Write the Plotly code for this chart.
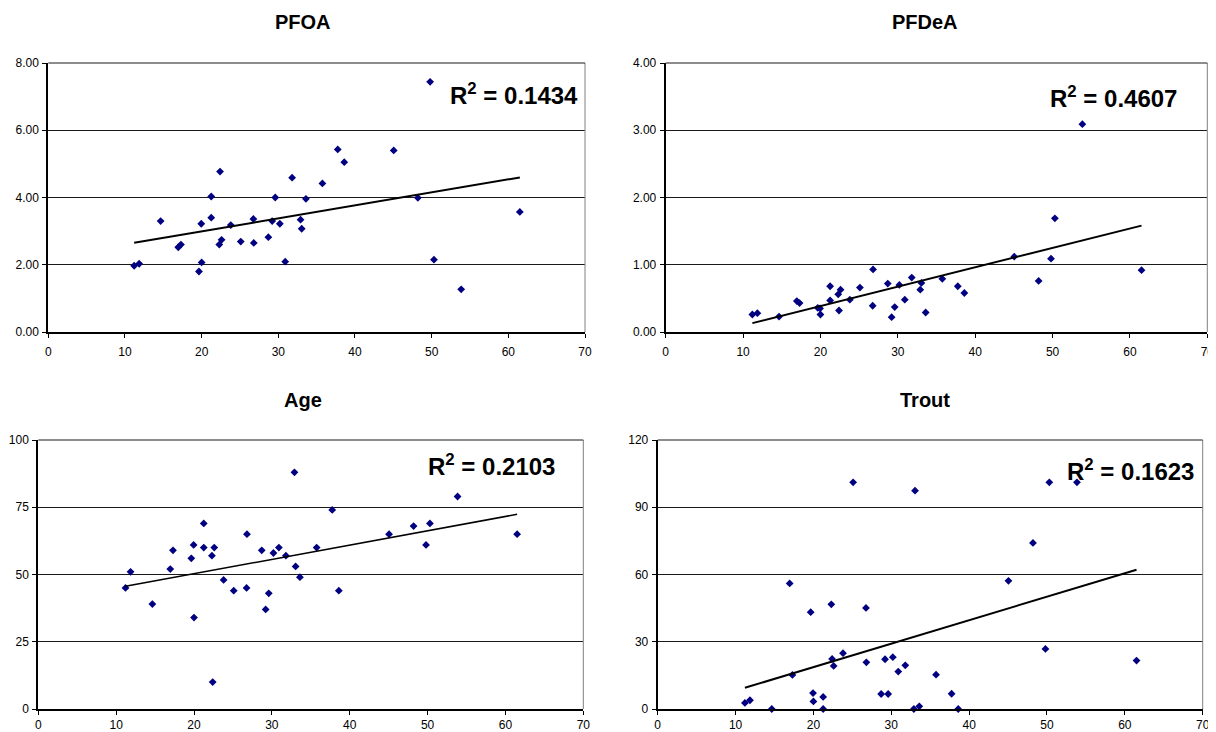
import numpy as np
import plotly.graph_objects as go

# ---- data ----
x_vals = [11.2, 11.85, 14.65, 16.95, 17.3, 19.65, 19.95, 20.0, 21.25, 21.25,
          22.3, 22.4, 22.6, 23.8, 25.1, 26.75, 26.8, 28.7, 29.2, 29.6,
          30.2, 30.9, 31.8, 32.9, 33.05, 33.6, 35.75, 37.75, 38.6, 45.05,
          48.2, 49.8, 50.3, 53.85, 61.5]

pfoa = [1.97, 2.03, 3.30, 2.52, 2.60, 1.80, 3.22, 2.07, 4.03, 3.40,
        2.60, 4.77, 2.74, 3.18, 2.69, 3.36, 2.65, 2.82, 3.30, 4.00,
        3.22, 2.09, 4.59, 3.34, 3.07, 3.96, 4.42, 5.43, 5.05, 5.40,
        3.99, 7.44, 2.15, 1.27, 3.57]

pfdea = [0.26, 0.28, 0.23, 0.46, 0.43, 0.36, 0.35, 0.26, 0.68, 0.47,
         0.56, 0.32, 0.63, 0.48, 0.66, 0.39, 0.93, 0.72, 0.22, 0.37,
         0.70, 0.48, 0.81, 0.63, 0.73, 0.29, 0.79, 0.68, 0.58, 1.12,
         0.76, 1.09, 1.69, 3.09, 0.92]

age = [45, 51, 39, 52, 59, 56, 61, 34, 69, 60,
       57, 10, 60, 48, 44, 45, 65, 59, 37, 43,
       58, 60, 57, 88, 53, 49, 60, 74, 44, 65,
       68, 61, 69, 79, 65]

trout = [2.7, 3.9, 0, 56, 15.2, 43.2, 7.1, 3.4, 5.4, 0,
         46.7, 22.3, 19.2, 24.9, 101.1, 45.1, 20.8, 6.7, 22.2, 6.7,
         23.1, 16.7, 19.5, 0, 97.4, 1.2, 15.3, 6.8, 0, 57.2,
         74.1, 26.8, 101.1, 101.1, 21.6]

titles = ["PFOA", "PFDeA", "Age", "Trout"]
r2_labels = ["0.1434", "0.4607", "0.2103", "0.1623"]
y_ranges = [[0, 8], [0, 4], [0, 100], [0, 120]]
y_dticks = [2, 1, 25, 30]
y_formats = [".2f", ".2f", "d", "d"]
x_range = [0, 70]
x_dtick = 10

series = [pfoa, pfdea, age, trout]

# ---- layout geometry (page pixels; the page body adds an 8px margin) ----
OFF = 8
W, H = 1216 - OFF, 732 - OFF
plot_boxes = [  # left, right, top, bottom in page px
    (48.3, 585.0, 63.0, 332.0),
    (665.7, 1207.3, 63.0, 332.0),
    (38.3, 583.3, 440.0, 709.0),
    (657.7, 1202.7, 440.0, 709.0),
]
title_pos = [(303, 22), (925, 22), (303, 400), (925, 400)]
r2_pos = [(580, 94), (1179, 97), (557, 465), (1196, 470)]
trend_widths = [2, 2, 1.5, 2]
x_standoff = [4, 4, 0, 0]

FONT = "Liberation Sans, Arial, sans-serif"
NAVY = "#000080"


def px(v):
    return (v - OFF) / W


def py(v):
    return 1 - (v - OFF) / H


fig = go.Figure()
layout = dict(
    width=W, height=H,
    margin=dict(l=0, r=0, t=0, b=0),
    paper_bgcolor="white", plot_bgcolor="white",
    showlegend=False,
    font=dict(family=FONT, size=12, color="#000000"),
    annotations=[], shapes=[],
)

for i in range(4):
    sfx = "" if i == 0 else str(i + 1)
    xa, ya = "x" + sfx, "y" + sfx
    l, r, t, b = plot_boxes[i]
    yv = series[i]

    fig.add_trace(go.Scatter(
        x=x_vals, y=yv, mode="markers", xaxis=xa, yaxis=ya,
        marker=dict(symbol="diamond", size=6, color=NAVY),
        cliponaxis=False, hoverinfo="x+y",
    ))
    # linear trendline from the data
    slope, icpt = np.polyfit(np.array(x_vals), np.array(yv, dtype=float), 1)
    xt = [min(x_vals), max(x_vals)]
    yt = [slope * v + icpt for v in xt]
    fig.add_trace(go.Scatter(
        x=xt, y=yt, mode="lines", xaxis=xa, yaxis=ya,
        line=dict(color="black", width=trend_widths[i]),
        hoverinfo="skip",
    ))

    layout["xaxis" + sfx] = dict(
        domain=[px(l), px(r)], anchor=ya, range=x_range, dtick=x_dtick,
        tick0=0, showgrid=False, zeroline=False, showline=True,
        linecolor="black", linewidth=2, ticks="outside", ticklen=4,
        tickcolor="black", tickwidth=1, automargin=False,
        ticklabelstandoff=x_standoff[i], ticklabeloverflow="allow",
        tickfont=dict(family=FONT, size=12, color="#000000"), fixedrange=True,
    )
    layout["yaxis" + sfx] = dict(
        domain=[py(b), py(t)], anchor=xa, range=y_ranges[i],
        dtick=y_dticks[i], tick0=0, tickformat=y_formats[i],
        showgrid=True, gridcolor="#1a1a1a", gridwidth=1, zeroline=False,
        showline=True, linecolor="black", linewidth=2, ticks="outside",
        ticklen=4, tickcolor="black", tickwidth=1, automargin=False,
        ticklabelstandoff=1, ticklabeloverflow="allow",
        tickfont=dict(family=FONT, size=12, color="#000000"), fixedrange=True,
    )
    # top and right frame of plot area
    layout["shapes"].append(dict(
        type="line", xref=xa + " domain", yref=ya + " domain",
        x0=1, x1=1, y0=0, y1=1, line=dict(color="#808080", width=1)))
    layout["shapes"].append(dict(
        type="line", xref=xa + " domain", yref=ya + " domain",
        x0=0, x1=1, y0=1, y1=1, line=dict(color="#1a1a1a", width=1)))

    tx, ty = title_pos[i]
    layout["annotations"].append(dict(
        text="<b>%s</b>" % titles[i], xref="paper", yref="paper",
        x=px(tx), y=py(ty), xanchor="center", yanchor="middle",
        showarrow=False, font=dict(family=FONT, size=20, color="black")))
    rx, ry = r2_pos[i]
    layout["annotations"].append(dict(
        text="<b>R<sup>2</sup> = %s</b>" % r2_labels[i], xref="paper",
        yref="paper", x=px(rx), y=py(ry), xanchor="right",
        yanchor="middle", showarrow=False,
        font=dict(family=FONT, size=24, color="black")))

fig.update_layout(**layout)
fig.write_html("out.html")
